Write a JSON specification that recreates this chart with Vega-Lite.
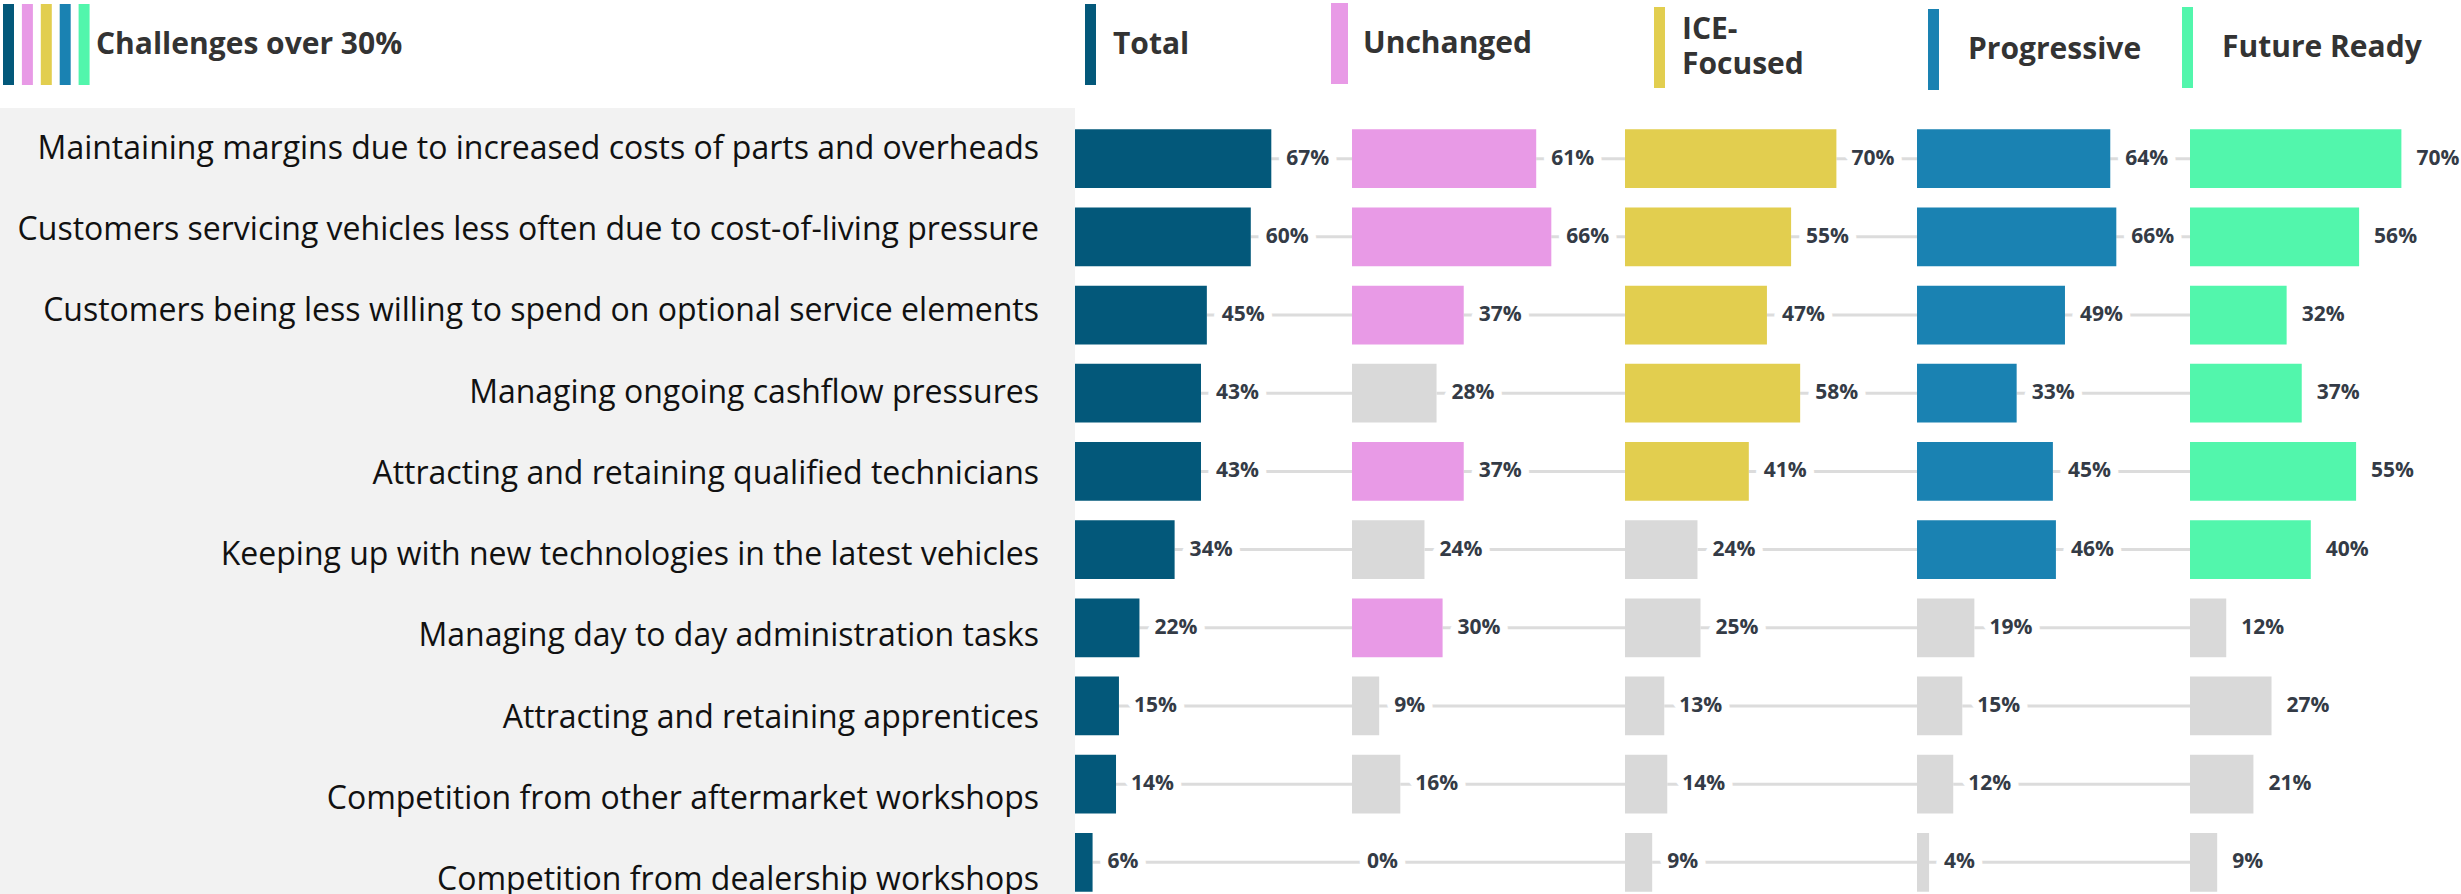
{
  "$schema": "https://vega.github.io/schema/vega-lite/v6.json",
  "padding": {"left": 0, "top": 3, "right": 0, "bottom": 0},
  "background": "white",
  "spacing": 0,
  "bounds": "flush",
  "config": {
    "view": {"stroke": null},
    "legend": {"padding": 0, "symbolSize": 6561, "symbolStrokeWidth": 0, "symbolOpacity": 1, "labelFont": "Open Sans", "labelFontWeight": "bold", "labelFontSize": 30, "labelColor": "#333333", "labelLimit": 1000, "titleLimit": 1000, "orient": "none"},
    "style": {"guide-label": {"lineHeight": 35}}
  },
  "resolve": {"scale": {"x": "independent", "y": "independent", "color": "independent"}, "legend": {"color": "independent"}},
  "data": {"values": [
    {"challenge": "Maintaining margins due to increased costs of parts and overheads", "group": "Total", "value": 0.67},
    {"challenge": "Customers servicing vehicles less often due to cost-of-living pressure", "group": "Total", "value": 0.60},
    {"challenge": "Customers being less willing to spend on optional service elements", "group": "Total", "value": 0.45},
    {"challenge": "Managing ongoing cashflow pressures", "group": "Total", "value": 0.43},
    {"challenge": "Attracting and retaining qualified technicians", "group": "Total", "value": 0.43},
    {"challenge": "Keeping up with new technologies in the latest vehicles", "group": "Total", "value": 0.34},
    {"challenge": "Managing day to day administration tasks", "group": "Total", "value": 0.22},
    {"challenge": "Attracting and retaining apprentices", "group": "Total", "value": 0.15},
    {"challenge": "Competition from other aftermarket workshops", "group": "Total", "value": 0.14},
    {"challenge": "Competition from dealership workshops", "group": "Total", "value": 0.06},
    {"challenge": "Maintaining margins due to increased costs of parts and overheads", "group": "Unchanged", "value": 0.61},
    {"challenge": "Customers servicing vehicles less often due to cost-of-living pressure", "group": "Unchanged", "value": 0.66},
    {"challenge": "Customers being less willing to spend on optional service elements", "group": "Unchanged", "value": 0.37},
    {"challenge": "Managing ongoing cashflow pressures", "group": "Unchanged", "value": 0.28},
    {"challenge": "Attracting and retaining qualified technicians", "group": "Unchanged", "value": 0.37},
    {"challenge": "Keeping up with new technologies in the latest vehicles", "group": "Unchanged", "value": 0.24},
    {"challenge": "Managing day to day administration tasks", "group": "Unchanged", "value": 0.30},
    {"challenge": "Attracting and retaining apprentices", "group": "Unchanged", "value": 0.09},
    {"challenge": "Competition from other aftermarket workshops", "group": "Unchanged", "value": 0.16},
    {"challenge": "Competition from dealership workshops", "group": "Unchanged", "value": 0.00},
    {"challenge": "Maintaining margins due to increased costs of parts and overheads", "group": "ICE-Focused", "value": 0.70},
    {"challenge": "Customers servicing vehicles less often due to cost-of-living pressure", "group": "ICE-Focused", "value": 0.55},
    {"challenge": "Customers being less willing to spend on optional service elements", "group": "ICE-Focused", "value": 0.47},
    {"challenge": "Managing ongoing cashflow pressures", "group": "ICE-Focused", "value": 0.58},
    {"challenge": "Attracting and retaining qualified technicians", "group": "ICE-Focused", "value": 0.41},
    {"challenge": "Keeping up with new technologies in the latest vehicles", "group": "ICE-Focused", "value": 0.24},
    {"challenge": "Managing day to day administration tasks", "group": "ICE-Focused", "value": 0.25},
    {"challenge": "Attracting and retaining apprentices", "group": "ICE-Focused", "value": 0.13},
    {"challenge": "Competition from other aftermarket workshops", "group": "ICE-Focused", "value": 0.14},
    {"challenge": "Competition from dealership workshops", "group": "ICE-Focused", "value": 0.09},
    {"challenge": "Maintaining margins due to increased costs of parts and overheads", "group": "Progressive", "value": 0.64},
    {"challenge": "Customers servicing vehicles less often due to cost-of-living pressure", "group": "Progressive", "value": 0.66},
    {"challenge": "Customers being less willing to spend on optional service elements", "group": "Progressive", "value": 0.49},
    {"challenge": "Managing ongoing cashflow pressures", "group": "Progressive", "value": 0.33},
    {"challenge": "Attracting and retaining qualified technicians", "group": "Progressive", "value": 0.45},
    {"challenge": "Keeping up with new technologies in the latest vehicles", "group": "Progressive", "value": 0.46},
    {"challenge": "Managing day to day administration tasks", "group": "Progressive", "value": 0.19},
    {"challenge": "Attracting and retaining apprentices", "group": "Progressive", "value": 0.15},
    {"challenge": "Competition from other aftermarket workshops", "group": "Progressive", "value": 0.12},
    {"challenge": "Competition from dealership workshops", "group": "Progressive", "value": 0.04},
    {"challenge": "Maintaining margins due to increased costs of parts and overheads", "group": "Future Ready", "value": 0.70},
    {"challenge": "Customers servicing vehicles less often due to cost-of-living pressure", "group": "Future Ready", "value": 0.56},
    {"challenge": "Customers being less willing to spend on optional service elements", "group": "Future Ready", "value": 0.32},
    {"challenge": "Managing ongoing cashflow pressures", "group": "Future Ready", "value": 0.37},
    {"challenge": "Attracting and retaining qualified technicians", "group": "Future Ready", "value": 0.55},
    {"challenge": "Keeping up with new technologies in the latest vehicles", "group": "Future Ready", "value": 0.40},
    {"challenge": "Managing day to day administration tasks", "group": "Future Ready", "value": 0.12},
    {"challenge": "Attracting and retaining apprentices", "group": "Future Ready", "value": 0.27},
    {"challenge": "Competition from other aftermarket workshops", "group": "Future Ready", "value": 0.21},
    {"challenge": "Competition from dealership workshops", "group": "Future Ready", "value": 0.09}
  ]},
  "hconcat": [
    {
      "width": 1075, "height": 813,
      "view": {"fill": "#F2F2F2", "stroke": null},
      "encoding": {"y": {"field": "challenge", "type": "nominal", "sort": null, "axis": null, "scale": {"paddingInner": 0, "paddingOuter": 0.0985}}},
      "layer": [
        {"transform": [{"filter": "datum.group == 'Total'"}],
         "mark": {"type": "text", "align": "right", "baseline": "middle", "dx": -36, "font": "Open Sans", "fontSize": 32, "color": "#111111"},
         "encoding": {"x": {"datum": 1, "type": "quantitative", "scale": {"domain": [0, 1]}, "axis": null}, "text": {"field": "challenge"}}},
        {"mark": {"type": "point", "filled": true, "opacity": 0},
         "encoding": {"color": {"field": "group", "type": "nominal", "sort": null,
           "scale": {"domain": ["Total", "Unchanged", "ICE-Focused", "Progressive", "Future Ready"], "range": ["#03587A", "#E89AE6", "#E2CE4F", "#1A82B2", "#52F6AC"]},
           "legend": {"legendX": 3, "legendY": -104, "direction": "horizontal", "columns": 5, "title": "Challenges over 30%", "titleOrient": "right", "titleAnchor": "middle", "titleBaseline": "middle", "titlePadding": 6, "titleFont": "Open Sans", "titleFontWeight": "bold", "titleFontSize": 30, "titleColor": "#333333", "symbolType": "M-0.1358,-1L0.1358,-1L0.1358,1L-0.1358,1Z", "symbolOffset": -35, "labelOffset": -76, "labelExpr": "''", "columnPadding": -22.1}}}}
      ]
    },
    {
      "width": 277, "height": 805,
      "transform": [{"filter": "datum.group == 'Total'"}],
      "encoding": {
        "y": {"field": "challenge", "type": "nominal", "sort": null, "axis": null, "scale": {"paddingInner": 0.249, "paddingOuter": 0.272}},
        "x": {"field": "value", "type": "quantitative", "axis": null, "scale": {"domain": [0, 0.9454], "nice": false}}
      },
      "layer": [
        {"mark": {"type": "rule", "color": "#DCDCDC", "strokeWidth": 3}, "encoding": {"x2": {"datum": 0.9454}}},
        {"mark": {"type": "bar"}, "encoding": {"color": {"field": "group", "type": "nominal", "scale": {"domain": ["Total"], "range": ["#03587A"]},
          "legend": {"legendX": -25, "legendY": -104, "title": null, "labelOffset": -18, "symbolType": "M-0.1358,-1L0.1358,-1L0.1358,1L-0.1358,1Z"}}}},
        {"mark": {"type": "text", "align": "left", "baseline": "middle", "dx": 15, "font": "Open Sans", "fontWeight": "bold", "fontSize": 21, "fill": "white", "stroke": "white", "strokeWidth": 16, "strokeJoin": "round"}, "encoding": {"text": {"field": "value", "type": "quantitative", "format": ".0%"}}},
        {"mark": {"type": "text", "align": "left", "baseline": "middle", "dx": 15, "font": "Open Sans", "fontWeight": "bold", "fontSize": 21, "color": "#343B46"}, "encoding": {"text": {"field": "value", "type": "quantitative", "format": ".0%"}}}
      ]
    },
    {
      "width": 273, "height": 805,
      "transform": [{"filter": "datum.group == 'Unchanged'"}],
      "encoding": {
        "y": {"field": "challenge", "type": "nominal", "sort": null, "axis": null, "scale": {"paddingInner": 0.249, "paddingOuter": 0.272}},
        "x": {"field": "value", "type": "quantitative", "axis": null, "scale": {"domain": [0, 0.904], "nice": false}}
      },
      "layer": [
        {"mark": {"type": "rule", "color": "#DCDCDC", "strokeWidth": 3}, "encoding": {"x2": {"datum": 0.904}}},
        {"mark": {"type": "bar"}, "encoding": {"color": {"condition": {"test": "datum.value >= 0.3", "field": "group", "type": "nominal", "scale": {"domain": ["Unchanged"], "range": ["#E89AE6"]},
          "legend": {"legendX": -53, "legendY": -105, "title": null, "labelOffset": -17, "symbolType": "M-0.21,-1L0.21,-1L0.21,1L-0.21,1Z"}}, "value": "#D9D9D9"}}},
        {"mark": {"type": "text", "align": "left", "baseline": "middle", "dx": 15, "font": "Open Sans", "fontWeight": "bold", "fontSize": 21, "fill": "white", "stroke": "white", "strokeWidth": 16, "strokeJoin": "round"}, "encoding": {"text": {"field": "value", "type": "quantitative", "format": ".0%"}}},
        {"mark": {"type": "text", "align": "left", "baseline": "middle", "dx": 15, "font": "Open Sans", "fontWeight": "bold", "fontSize": 21, "color": "#343B46"}, "encoding": {"text": {"field": "value", "type": "quantitative", "format": ".0%"}}}
      ]
    },
    {
      "width": 292, "height": 805,
      "transform": [{"filter": "datum.group == 'ICE-Focused'"}],
      "encoding": {
        "y": {"field": "challenge", "type": "nominal", "sort": null, "axis": null, "scale": {"paddingInner": 0.249, "paddingOuter": 0.272}},
        "x": {"field": "value", "type": "quantitative", "axis": null, "scale": {"domain": [0, 0.9669], "nice": false}}
      },
      "layer": [
        {"mark": {"type": "rule", "color": "#DCDCDC", "strokeWidth": 3}, "encoding": {"x2": {"datum": 0.9669}}},
        {"mark": {"type": "bar"}, "encoding": {"color": {"condition": {"test": "datum.value >= 0.3", "field": "group", "type": "nominal", "scale": {"domain": ["ICE-Focused"], "range": ["#E2CE4F"]},
          "legend": {"legendX": -6, "legendY": -101, "title": null, "labelOffset": -18, "labelBaseline": "line-bottom", "labelExpr": "datum.label == 'ICE-Focused' ? ['ICE-', 'Focused'] : datum.label", "symbolType": "M-0.1358,-1L0.1358,-1L0.1358,1L-0.1358,1Z"}}, "value": "#D9D9D9"}}},
        {"mark": {"type": "text", "align": "left", "baseline": "middle", "dx": 15, "font": "Open Sans", "fontWeight": "bold", "fontSize": 21, "fill": "white", "stroke": "white", "strokeWidth": 16, "strokeJoin": "round"}, "encoding": {"text": {"field": "value", "type": "quantitative", "format": ".0%"}}},
        {"mark": {"type": "text", "align": "left", "baseline": "middle", "dx": 15, "font": "Open Sans", "fontWeight": "bold", "fontSize": 21, "color": "#343B46"}, "encoding": {"text": {"field": "value", "type": "quantitative", "format": ".0%"}}}
      ]
    },
    {
      "width": 273, "height": 805,
      "transform": [{"filter": "datum.group == 'Progressive'"}],
      "encoding": {
        "y": {"field": "challenge", "type": "nominal", "sort": null, "axis": null, "scale": {"paddingInner": 0.249, "paddingOuter": 0.272}},
        "x": {"field": "value", "type": "quantitative", "axis": null, "scale": {"domain": [0, 0.904], "nice": false}}
      },
      "layer": [
        {"mark": {"type": "rule", "color": "#DCDCDC", "strokeWidth": 3}, "encoding": {"x2": {"datum": 0.904}}},
        {"mark": {"type": "bar"}, "encoding": {"color": {"condition": {"test": "datum.value >= 0.3", "field": "group", "type": "nominal", "scale": {"domain": ["Progressive"], "range": ["#1A82B2"]},
          "legend": {"legendX": -24, "legendY": -99, "title": null, "labelOffset": -6, "symbolType": "M-0.1358,-1L0.1358,-1L0.1358,1L-0.1358,1Z"}}, "value": "#D9D9D9"}}},
        {"mark": {"type": "text", "align": "left", "baseline": "middle", "dx": 15, "font": "Open Sans", "fontWeight": "bold", "fontSize": 21, "fill": "white", "stroke": "white", "strokeWidth": 16, "strokeJoin": "round"}, "encoding": {"text": {"field": "value", "type": "quantitative", "format": ".0%"}}},
        {"mark": {"type": "text", "align": "left", "baseline": "middle", "dx": 15, "font": "Open Sans", "fontWeight": "bold", "fontSize": 21, "color": "#343B46"}, "encoding": {"text": {"field": "value", "type": "quantitative", "format": ".0%"}}}
      ]
    },
    {
      "width": 271, "height": 805,
      "transform": [{"filter": "datum.group == 'Future Ready'"}],
      "encoding": {
        "y": {"field": "challenge", "type": "nominal", "sort": null, "axis": null, "scale": {"paddingInner": 0.249, "paddingOuter": 0.272}},
        "x": {"field": "value", "type": "quantitative", "axis": null, "scale": {"domain": [0, 0.8974], "nice": false}}
      },
      "layer": [
        {"mark": {"type": "bar"}, "encoding": {"color": {"condition": {"test": "datum.value >= 0.3", "field": "group", "type": "nominal", "scale": {"domain": ["Future Ready"], "range": ["#52F6AC"]},
          "legend": {"legendX": -43, "legendY": -101, "title": null, "labelOffset": -6, "symbolType": "M-0.1358,-1L0.1358,-1L0.1358,1L-0.1358,1Z"}}, "value": "#D9D9D9"}}},
        {"mark": {"type": "text", "align": "left", "baseline": "middle", "dx": 15, "font": "Open Sans", "fontWeight": "bold", "fontSize": 21, "color": "#343B46"}, "encoding": {"text": {"field": "value", "type": "quantitative", "format": ".0%"}}}
      ]
    }
  ]
}
